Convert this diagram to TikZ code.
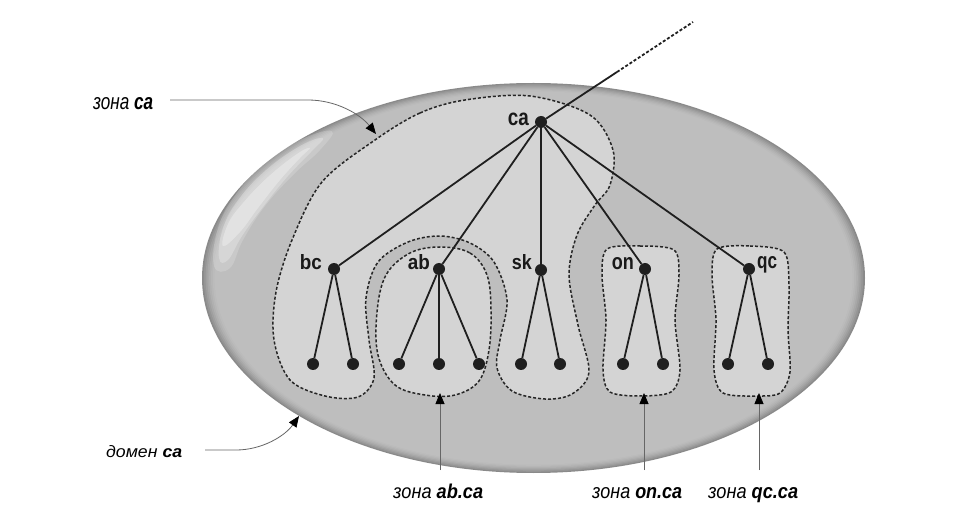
\documentclass[tikz,border=0pt]{standalone}
\usepackage{fontspec}
\setmainfont{Liberation Sans}
\usetikzlibrary{arrows.meta,calc}
\definecolor{dom}{RGB}{190,190,190}
\definecolor{zonefill}{RGB}{212,212,212}
\begin{document}
\begin{tikzpicture}[x=1pt,y=-1pt,
  dot/.style={circle,fill=black!88,inner sep=0pt,minimum size=12pt},
  edge/.style={line width=1.8pt,draw=black!88},
  zone/.style={fill=zonefill,draw=black!85,line width=1.5pt,dash pattern=on 3pt off 2pt},
  annot/.style={draw=black!60,line width=0.8pt,-{Triangle[length=11pt,width=9pt,color=black]}},
  nlab/.style={inner sep=0pt,text=black!90,font=\bfseries},
  alab/.style={inner sep=0pt,anchor=base west,text=black}]
\useasboundingbox (0,0) rectangle (959,521);
\fill[white] (0,0) rectangle (959,521);
% domain ellipse with darker rim
\foreach \k/\g in {0/138,1/149,2/159,3/168,4/176,5/182,6/187,7/190}{
  \definecolor{rim}{RGB}{\g,\g,\g}
  \fill[rim] (533.5,278) ellipse [x radius={331.5pt-1.8pt*\k}, y radius={195pt-1.2pt*\k}];
}
% highlight
\fill[white,opacity=0.18] plot[smooth cycle,tension=0.7] coordinates {(214,266) (218,228) (236,194) (264,164) (300,140) (332,131) (320,150) (294,174) (265,206) (243,240) (230,268)};
\fill[white,opacity=0.25] plot[smooth cycle,tension=0.7] coordinates {(219,258) (223,228) (239,199) (266,170) (300,146) (323,138) (311,152) (288,176) (263,207) (242,236) (228,260)};
\fill[white,opacity=0.3] plot[smooth cycle,tension=0.7] coordinates {(223,246) (228,224) (243,203) (268,177) (297,154) (310,148) (300,158) (280,180) (258,208) (240,232)};
% zones
\path[zone] plot[smooth cycle,tension=0.55] coordinates {(375,140) (420,113) (465,100) (530,96) (590,115) (613,150) (610,185) (595,205) (577,235) (569,275) (578,325) (589,372) (572,394) (545,399) (512,391) (497,368) (500,340) (507,300) (494,262) (470,243) (440,236) (408,242) (378,262) (366,298) (369,340) (374,378) (358,397) (325,396) (290,380) (274,340) (276,292) (292,240) (322,182)};
\path[zone] plot[smooth cycle,tension=0.6] coordinates {(440,247) (470,253) (487,275) (491,310) (489,350) (479,381) (455,395) (425,395) (395,385) (378,355) (377,312) (386,275) (410,253)};
\path[zone] plot[smooth cycle,tension=0.5] coordinates {(607,249) (640,246) (674,250) (679,275) (675,320) (680,370) (671,392) (640,396) (610,392) (603,370) (606,320) (602,275)};
\path[zone] plot[smooth cycle,tension=0.5] coordinates {(717,249) (750,246) (784,252) (789,285) (788,330) (790,372) (780,393) (757,396) (723,393) (714,370) (716,320) (712,275)};
% nodes
\node[dot] (ca) at (541,122) {};
\node[dot] (bc) at (334,269) {};
\node[dot] (ab) at (439,269) {};
\node[dot] (sk) at (541,270) {};
\node[dot] (on) at (645,269) {};
\node[dot] (qc) at (749,269) {};
\node[dot] (bc1) at (313,364) {};
\node[dot] (bc2) at (353,364) {};
\node[dot] (ab1) at (399,364) {};
\node[dot] (ab2) at (439,364) {};
\node[dot] (ab3) at (479,364) {};
\node[dot] (sk1) at (521,364) {};
\node[dot] (sk2) at (560,364) {};
\node[dot] (on1) at (623,364) {};
\node[dot] (on2) at (663,364) {};
\node[dot] (qc1) at (728,364) {};
\node[dot] (qc2) at (768,364) {};
\coordinate (up1) at (617,72);
\coordinate (up2) at (693,22);
% edges
\draw[edge] (ca) -- (up1);
\draw[edge,dash pattern=on 3pt off 2pt] (up1) -- (up2);
\foreach \c in {bc,ab,sk,on,qc} \draw[edge] (ca) -- (\c);
\draw[edge] (bc) -- (bc1); \draw[edge] (bc) -- (bc2);
\draw[edge] (ab) -- (ab1); \draw[edge] (ab) -- (ab2); \draw[edge] (ab) -- (ab3);
\draw[edge] (sk) -- (sk1); \draw[edge] (sk) -- (sk2);
\draw[edge] (on) -- (on1); \draw[edge] (on) -- (on2);
\draw[edge] (qc) -- (qc1); \draw[edge] (qc) -- (qc2);
% node labels
\node[nlab,anchor=base east] (lca) at (529,126) {\resizebox{21pt}{12.5pt}{ca}};
\node[nlab,anchor=base east] (lbc) at (322,270) {\resizebox{22pt}{15pt}{bc}};
\node[nlab,anchor=base east] (lab) at (430,270) {\resizebox{22pt}{15pt}{ab}};
\node[nlab,anchor=base east] (lsk) at (532,270) {\resizebox{20pt}{15pt}{sk}};
\node[nlab,anchor=base east] (lon) at (634,270) {\resizebox{22pt}{12pt}{on}};
\node[nlab,anchor=base west] (lqc) at (757,269) {\resizebox{20pt}{12pt}{qc}};
% annotation labels
\node[alab] (lzca) at (93,110) {\resizebox{60pt}{12pt}{\itshape зона \textbf{ca}}};
\node[alab] (ldom) at (106,457) {\resizebox{76pt}{12pt}{\itshape домен \textbf{ca}}};
\node[alab] (lzab) at (393,498) {\resizebox{90pt}{14.5pt}{\itshape зона \textbf{ab.ca}}};
\node[alab] (lzon) at (592,498) {\resizebox{90pt}{11pt}{\itshape зона \textbf{on.ca}}};
\node[alab] (lzqc) at (708,498) {\resizebox{90pt}{11pt}{\itshape зона \textbf{qc.ca}}};
% annotation arrows
\coordinate (zcaS) at (170,100);
\coordinate (zcaT) at (376,134);
\coordinate (domS) at (205,450);
\coordinate (domT) at (299,416);
\coordinate (abS) at (440,470);
\coordinate (abT) at (440,393);
\coordinate (onS) at (644,470);
\coordinate (onT) at (644,393);
\coordinate (qcS) at (759,470);
\coordinate (qcT) at (759,393);
\draw[annot] (zcaS) -- (308,100) .. controls (336,100) and (360,114) .. (zcaT);
\draw[annot] (domS) -- (236,450) .. controls (262,450) and (285,436) .. (domT);
\draw[annot] (abS) -- (abT);
\draw[annot] (onS) -- (onT);
\draw[annot] (qcS) -- (qcT);
\end{tikzpicture}
\end{document}
